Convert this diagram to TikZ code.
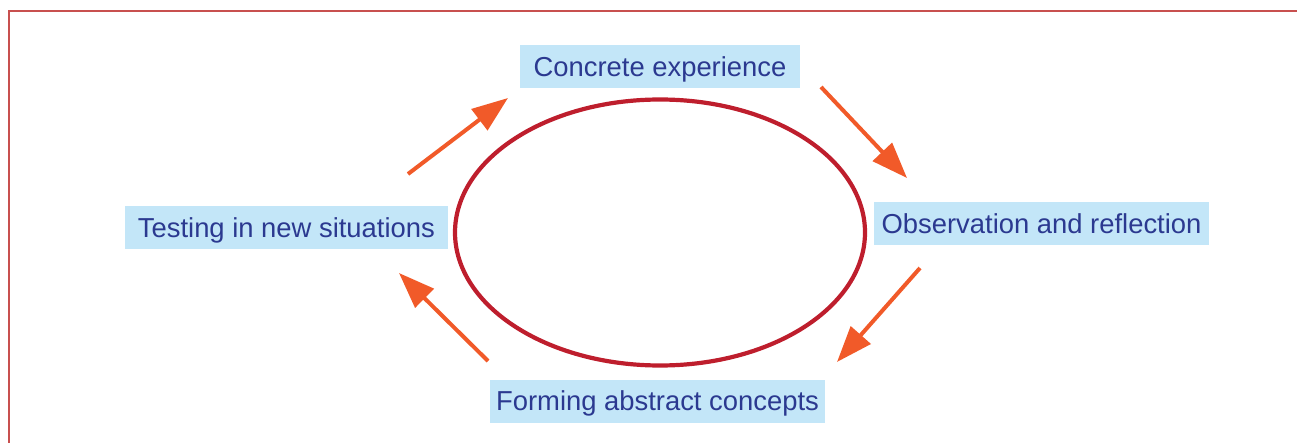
\documentclass[tikz,border=0pt]{standalone}
\usepackage{fontspec}
\setmainfont{Liberation Sans}
\usetikzlibrary{arrows.meta}

\definecolor{framered}{HTML}{C8504F}
\definecolor{ringred}{HTML}{BE1E2D}
\definecolor{arroworange}{HTML}{F15A29}
\definecolor{boxblue}{HTML}{C3E6F8}
\definecolor{textblue}{HTML}{2B3990}

\tikzset{
  stage/.style={fill=boxblue, text=textblue, inner sep=0pt,
    minimum height=43pt, text height=19.5pt, text depth=0pt,
    font=\fontsize{27.4}{30}\selectfont},
  flow/.style={draw=arroworange, line width=4pt,
    -{Triangle[length=36pt, width=26pt]}},
}

\begin{document}
\begin{tikzpicture}[x=1pt, y=-1pt]
  \useasboundingbox (0,0) rectangle (1297,443);

  % open frame along the top and left edges
  \draw[framered, line width=2pt] (8.5,443) -- (8.5,11.5) -- (1297,11.5);

  % central cycle ring
  \draw[ringred, line width=4.2pt] (660,232.5) ellipse [x radius=205pt, y radius=133pt];

  % the four stages
  \node[stage, minimum width=280pt] (ce) at (660,66.5) {Concrete experience};
  \node[stage, minimum width=335pt] (or) at (1041.5,224) {Observation and reflection};
  \node[stage, minimum width=335pt] (fa) at (657.5,401) {Forming abstract concepts};
  \node[stage, minimum width=323pt] (tn) at (286.4,227.5) {Testing in new situations};

  % arrow end points between the stages
  \coordinate (a1s) at (408,174);  \coordinate (a1e) at (508,98);
  \coordinate (a2s) at (821,87);   \coordinate (a2e) at (907,178);
  \coordinate (a3s) at (920,268);  \coordinate (a3e) at (837,362);
  \coordinate (a4s) at (488,361);  \coordinate (a4e) at (399,273);

  \draw[flow] (a1s) -- (a1e);
  \draw[flow] (a2s) -- (a2e);
  \draw[flow] (a3s) -- (a3e);
  \draw[flow] (a4s) -- (a4e);
\end{tikzpicture}
\end{document}
